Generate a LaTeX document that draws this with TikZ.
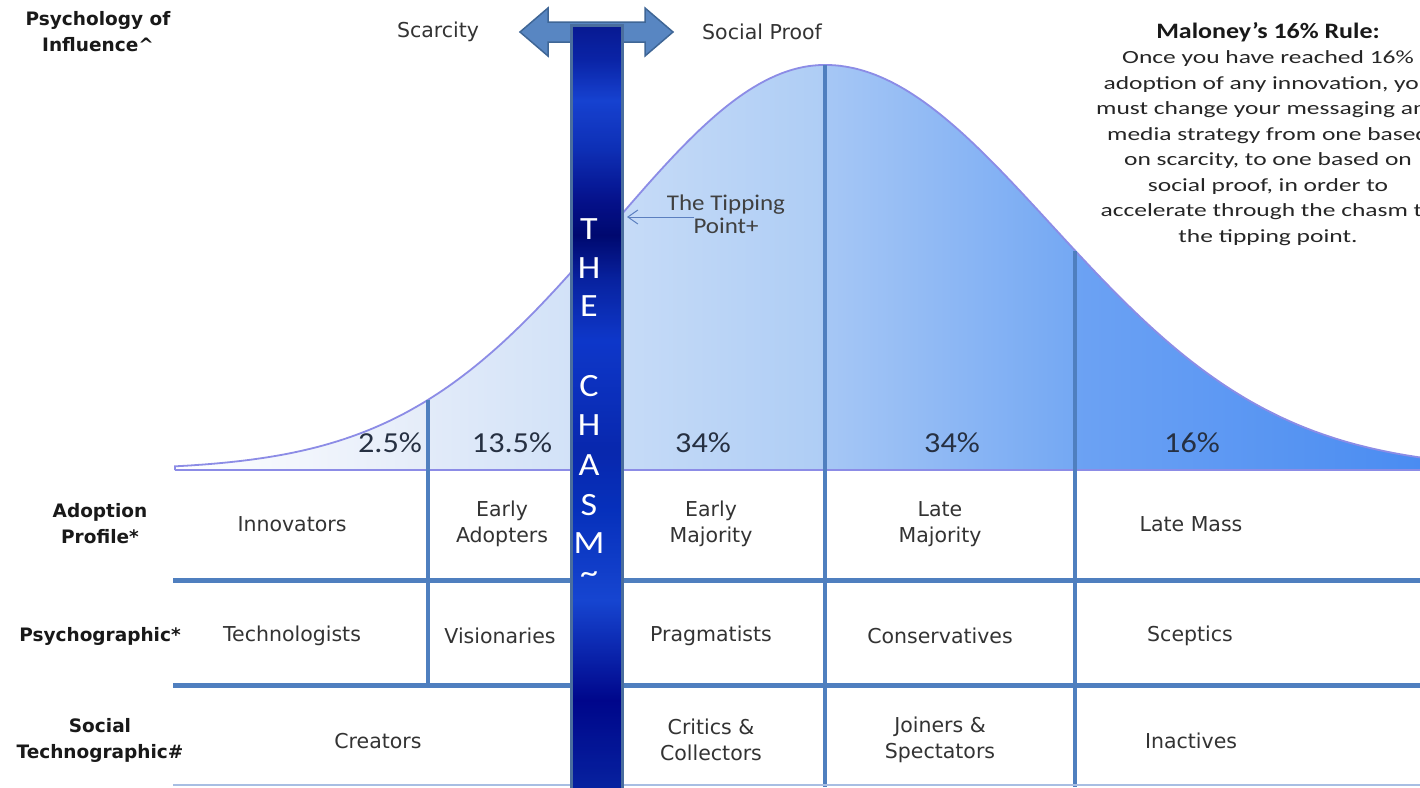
\documentclass[tikz,border=0pt]{standalone}
\usepackage{fontspec}
\setmainfont{Carlito}
\newfontfamily\vfont{DejaVu Sans}
\newfontfamily\pctfont[FakeStretch=1.11]{Carlito}
\newfontfamily\titlefont[FakeStretch=1.18]{Carlito}
\newfontfamily\bodyfont[FakeStretch=1.37]{Carlito}
\usetikzlibrary{arrows.meta}
\definecolor{gridblue}{HTML}{4F7FBF}
\definecolor{baredge}{HTML}{4A6E9E}
\definecolor{curveline}{HTML}{8C8CE6}
\definecolor{celltext}{HTML}{333333}
\definecolor{pcttext}{HTML}{263042}
\definecolor{arrowfill}{HTML}{5886C2}
\definecolor{arrowedge}{HTML}{3F6696}
\definecolor{tipblue}{HTML}{5B7FBF}
\definecolor{bottomline}{HTML}{A8BEE3}
\definecolor{bA}{HTML}{E4ECF9}
\definecolor{bB}{HTML}{E2EBF9}
\definecolor{bC}{HTML}{D2E2F8}
\definecolor{bD}{HTML}{D0E1F8}
\definecolor{bE}{HTML}{C6DBF7}
\definecolor{bF}{HTML}{AECDF5}
\definecolor{bG}{HTML}{A6C7F5}
\definecolor{bH}{HTML}{74A8F3}
\definecolor{bI}{HTML}{6CA2F3}
\definecolor{bJ}{HTML}{4A8CF2}
\definecolor{k1}{HTML}{0A1EA8}
\definecolor{k2}{HTML}{0C2AC0}
\definecolor{k3}{HTML}{1A4CF0}
\definecolor{k4}{HTML}{1036D0}
\definecolor{k5}{HTML}{0614A0}
\definecolor{k6}{HTML}{000A80}
\definecolor{k7}{HTML}{0A28B8}
\definecolor{k8}{HTML}{1040E8}
\definecolor{k9}{HTML}{0A2EC8}
\definecolor{k10}{HTML}{0838D8}
\definecolor{k11}{HTML}{1A50F0}
\definecolor{k12}{HTML}{0008A0}
\definecolor{k13}{HTML}{0828B8}
\begin{document}
\begin{tikzpicture}[x=1pt,y=-1pt,
  declare function={
    gl(\x)=470-405*exp(-(((\x-825)/100)*((\x-825)/100))/8.99);
    gr(\x)=470-405*exp(-(((\x-825)/100)*((\x-825)/100))/10.2);},
  cell/.style={font=\vfont\fontsize{20.5}{26}\selectfont, text=celltext, align=center, inner sep=0},
  head/.style={font=\vfont\bfseries\fontsize{18.5}{26}\selectfont, text=black!90, align=center, inner sep=0},
  pct/.style={font=\pctfont\fontsize{29}{32}\selectfont, text=pcttext, inner sep=0},
  chasmletter/.style={font=\pctfont\fontsize{32.5}{34}\selectfont, text=white, inner sep=0},
  gridv/.style={draw=gridblue, line width=4pt},
  gridh/.style={draw=gridblue, line width=5pt},
]
\useasboundingbox (0,0) rectangle (1420,787);
\clip (0,0) rectangle (1420,787);
\fill[white] (0,0) rectangle (1420,787);

% bell fill
\begin{scope}
\path[clip] (175,470) -- plot[domain=175:825,samples=120] (\x,{gl(\x)})
  -- plot[domain=825:1420,samples=120] (\x,{gr(\x)}) -- (1420,470) -- cycle;
\shade[left color=white, right color=bA] (170,0) rectangle (428,471);
\shade[left color=bB, right color=bC] (428,0) rectangle (572,471);
\shade[left color=bD, right color=bE] (572,0) rectangle (622,471);
\shade[left color=bE, right color=bF] (622,0) rectangle (825,471);
\shade[left color=bG, right color=bH] (825,0) rectangle (1075,471);
\shade[left color=bI, right color=bJ] (1075,0) rectangle (1421,471);
\end{scope}
\draw[curveline, line width=1.8pt] (175,470) -- plot[domain=175:825,samples=120] (\x,{gl(\x)})
  -- plot[domain=825:1420,samples=120] (\x,{gr(\x)});
\draw[curveline, line width=1.8pt] (175,470) -- (1420,470);

% grid
\draw[gridv] (428,{gl(428)}) -- (428,685);
\draw[gridv] (825,65) -- (825,787);
\draw[gridv] (1075,{gr(1075)}) -- (1075,787);
\draw[gridh] (173,580) -- (1420,580);
\draw[gridh] (173,685) -- (1420,685);
\draw[draw=bottomline, line width=1.5pt] (173,785) -- (1420,785);

% double arrow
\filldraw[fill=arrowfill, draw=arrowedge, line width=1.5pt, line join=miter]
  (520,32) -- (548,8) -- (548,22) -- (645,22) -- (645,8) -- (673,32)
  -- (645,56) -- (645,42) -- (548,42) -- (548,56) -- cycle;

% chasm bar
\shade[top color=k1, bottom color=k2] (571,25) rectangle (622,60.5);
\shade[top color=k2, bottom color=k3] (571,60) rectangle (622,100.5);
\shade[top color=k3, bottom color=k4] (571,100) rectangle (622,150.5);
\shade[top color=k4, bottom color=k5] (571,150) rectangle (622,200.5);
\shade[top color=k5, bottom color=k6] (571,200) rectangle (622,235.5);
\shade[top color=k6, bottom color=k7] (571,235) rectangle (622,280.5);
\shade[top color=k7, bottom color=k8] (571,280) rectangle (622,340.5);
\shade[top color=k8, bottom color=k9] (571,340) rectangle (622,450.5);
\shade[top color=k9, bottom color=k10] (571,450) rectangle (622,510.5);
\shade[top color=k10, bottom color=k11] (571,510) rectangle (622,600.5);
\shade[top color=k11, bottom color=k12] (571,600) rectangle (622,700.5);
\shade[top color=k12, bottom color=k13] (571,700) rectangle (622,790);
\shade[left color=black, middle color=white, right color=black, opacity=0.13] (571,25) rectangle (622,790);
\draw[baredge, line width=3pt] (571,25) rectangle (622,792);

\node[chasmletter] (cT) at (589,229) {T};
\node[chasmletter] (cH) at (589,268) {H};
\node[chasmletter] (cE) at (589,306) {E};
\node[chasmletter] (cC) at (589,386) {C};
\node[chasmletter] (cH2) at (589,425) {H};
\node[chasmletter] (cA) at (589,465) {A};
\node[chasmletter] (cS) at (589,505) {S};
\node[chasmletter] (cM) at (589,543) {M};
\node[chasmletter] (cTil) at (589,578) {\textasciitilde};

% tipping point
\node[font=\pctfont\fontsize{22.5}{23}\selectfont, text=black!75, align=center, inner sep=0] (tip) at (726,214) {The Tipping\\Point+};
\coordinate (tipstart) at (694,217);
\coordinate (tipend) at (627,217);
\draw[tipblue, line width=1pt, -{Straight Barb[length=10pt,width=14pt]}] (tipstart) -- (tipend);

% top labels
\node[head] (hPsy) at (98,32) {Psychology of\\Influence\textasciicircum};
\node[font=\vfont\fontsize{20.5}{22}\selectfont, text=celltext, inner sep=0] (scar) at (438,32) {Scarcity};
\node[font=\vfont\fontsize{20.5}{22}\selectfont, text=celltext, inner sep=0] (sproof) at (762,32) {Social Proof};

% Maloney
\node[font=\titlefont\bfseries\fontsize{22}{25}\selectfont, text=black!90, inner sep=0] (mtitle) at (1268,32) {Maloney’s 16\% Rule:};
\node[font=\bodyfont\fontsize{18.6}{25.5}\selectfont, text=black!85, align=center, inner sep=0] (mbody) at (1268,148) {Once you have reached 16\%\\adoption of any innovation, you\\must change your messaging and\\media strategy from one based\\on scarcity, to one based on\\social proof, in order to\\accelerate through the chasm to\\the tipping point.};

% percentages
\node[pct] (p1) at (390,443) {2.5\%};
\node[pct] (p2) at (512,443) {13.5\%};
\node[pct] (p3) at (703,443) {34\%};
\node[pct] (p4) at (952,443) {34\%};
\node[pct] (p5) at (1192,443) {16\%};

% row headers
\node[head] (hAdopt) at (100,524) {Adoption\\Profile*};
\node[head] (hPsyg) at (100,636) {Psychographic*};
\node[head] (hSoc) at (100,740) {Social\\Technographic\#};

% row 1
\node[cell] (r1a) at (292,524) {Innovators};
\node[cell] (r1b) at (502,524) {Early\\Adopters};
\node[cell] (r1c) at (711,524) {Early\\Majority};
\node[cell] (r1d) at (940,524) {Late\\Majority};
\node[cell] (r1e) at (1191,524) {Late Mass};
% row 2
\node[cell] (r2a) at (292,636) {Technologists};
\node[cell] (r2b) at (500,636) {Visionaries};
\node[cell] (r2c) at (711,636) {Pragmatists};
\node[cell] (r2d) at (940,636) {Conservatives};
\node[cell] (r2e) at (1190,636) {Sceptics};
% row 3
\node[cell] (r3a) at (378,741) {Creators};
\node[cell] (r3c) at (711,740) {Critics \&\\Collectors};
\node[cell] (r3d) at (940,740) {Joiners \&\\Spectators};
\node[cell] (r3e) at (1191,741) {Inactives};
\end{tikzpicture}
\end{document}
